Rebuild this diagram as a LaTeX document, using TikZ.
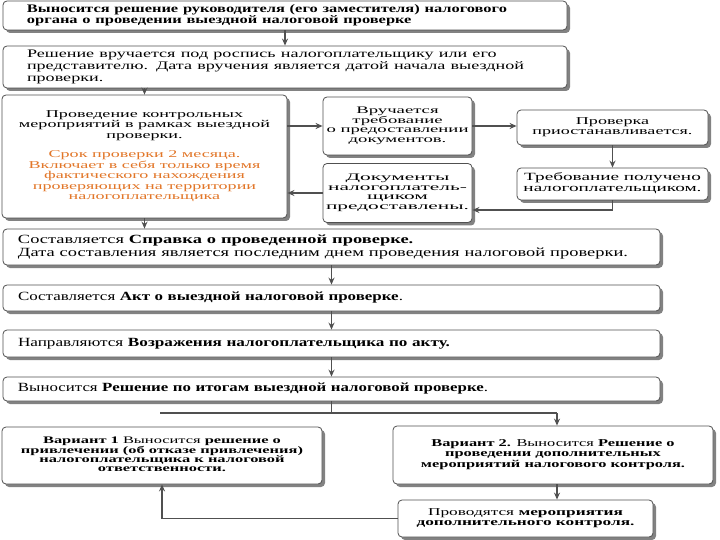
\documentclass[tikz,border=0pt]{standalone}
\usepackage{fontspec}
\setmainfont{Liberation Serif}
\usepackage{graphicx}
\usetikzlibrary{shadows,arrows.meta}
\definecolor{edge}{RGB}{80,80,80}
\definecolor{shad}{RGB}{130,130,130}
\definecolor{orng}{RGB}{226,118,40}
\newcommand{\TT}[5][c]{{\fontsize{#3}{#4}\selectfont\resizebox{#2}{\height}{\begin{tabular}{@{}#1@{}}#5\end{tabular}}}}
\begin{document}
\begin{tikzpicture}[x=1pt,y=-1pt,
  box/.style={draw=edge, line width=0.8pt, rounded corners=4pt, fill=white, inner sep=0pt,
    drop shadow={shadow xshift=3pt, shadow yshift=-3pt, fill=shad, opacity=1}},
  cbox/.style={box, align=center},
  lbox/.style={box, align=left, inner xsep=#1},
  arr/.style={draw=edge, line width=1.2pt, -{Stealth[length=7pt,width=6pt]}},
  ln/.style={draw=edge, line width=1.2pt}]
\useasboundingbox (0,0) rectangle (720,540);

\node[lbox=24pt, text width=516pt, minimum height=29pt] (b1) at (285,15.5)
  {\TT[l]{480pt}{11.5}{11.5}{\bfseries Выносится решение руководителя (его заместителя) налогового\\\bfseries органа о проведении выездной налоговой проверке}};
\node[lbox=24pt, text width=516pt, minimum height=42pt] (b2) at (285,67)
  {\TT[l]{497pt}{11.5}{11.7}{Решение вручается под роспись налогоплательщику или его\\представителю. Дата вручения является датой начала выездной\\проверки.}};
\node[cbox, minimum width=285pt, minimum height=123pt] (b3) at (144.5,156.5)
  {\TT{251pt}{10.5}{10.5}{Проведение контрольных\\мероприятий в рамках выездной\\проверки.\\[9pt]
   \color{orng}Срок проверки 2 месяца.\\\color{orng}Включает в себя только время\\\color{orng}фактического нахождения\\\color{orng}проверяющих на территории\\\color{orng}налогоплательщика}};
\node[cbox, minimum width=149pt, minimum height=58pt] (b4) at (397.5,126)
  {\TT{142pt}{10}{9.7}{Вручается\\требование\\о предоставлении\\документов.}};
\node[cbox, minimum width=149pt, minimum height=59pt] (b5) at (397.5,193)
  {\TT{143pt}{10}{9.7}{Документы\\налогоплатель-\\щиком\\предоставлены.}};
\node[cbox, minimum width=191pt, minimum height=35pt] (b6) at (612.5,127.5)
  {\TT{160pt}{10.5}{10.5}{Проверка\\приостанавливается.}};
\node[cbox, minimum width=191pt, minimum height=32pt] (b7) at (612.5,184)
  {\TT{178pt}{11}{11}{Требование получено\\налогоплательщиком.}};
\node[lbox=15pt, text width=627pt, minimum height=36pt] (b8) at (331.5,247)
  {\TT[l]{610pt}{12.5}{13}{Составляется \textbf{Справка о проведенной проверке.}\\Дата составления является последним днем проведения налоговой проверки.}};
\node[lbox=15pt, text width=627pt, minimum height=26pt] (b9) at (331.5,298)
  {\TT[l]{385pt}{12.5}{13}{Составляется \textbf{Акт о выездной налоговой проверке}.}};
\node[lbox=15pt, text width=627pt, minimum height=27pt] (b10) at (331.5,343.5)
  {\TT[l]{432pt}{12.5}{13}{Направляются \textbf{Возражения налогоплательщика по акту.}}};
\node[lbox=15pt, text width=627pt, minimum height=24pt] (b11) at (331.5,389)
  {\TT[l]{470pt}{12.5}{13}{Выносится \textbf{Решение по итогам выездной налоговой проверке}.}};
\node[cbox, minimum width=320pt, minimum height=57pt] (b12) at (162,455.5)
  {\TT{282pt}{10}{8.8}{\textbf{Вариант 1} Выносится \textbf{решение о}\\\bfseries привлечении (об отказе привлечения)\\\bfseries налогоплательщика к налоговой\\\bfseries ответственности.}};
\node[cbox, minimum width=320pt, minimum height=58pt] (b13) at (553,455)
  {\TT{264pt}{10.5}{10.2}{\textbf{Вариант 2.} Выносится \textbf{Решение о}\\\bfseries проведении дополнительных\\\bfseries мероприятий налогового контроля.}};
\node[cbox, minimum width=255pt, minimum height=37pt] (b14) at (525.5,518.5)
  {\TT{218pt}{10.5}{10.5}{Проводятся \textbf{мероприятия}\\\bfseries дополнительного контроля.}};

\coordinate (k) at (615,210);
\coordinate (jl) at (160,413);
\coordinate (jr) at (557,413);

\draw[arr] (b1.south) -- (b2.north);
\draw[arr] (b3.north |- b2.south) -- (b3.north);
\draw[arr] (b3.east |- b4.west) -- (b4.west);
\draw[arr] (b4.east) -- (b6.west |- b4.east);
\draw[arr] (b6.south) -- (b7.north);
\draw[arr] (b7.south) |- (b5.east |- k);
\draw[arr] (b5.west) -- (b3.east |- b5.west);
\draw[arr] (b3.south) -- (b3.south |- b8.north);
\draw[arr] (b8.south) -- (b9.north);
\draw[arr] (b9.south) -- (b10.north);
\draw[arr] (b10.south) -- (b11.north);
\draw[ln] (b11.south) -- (b11.south |- jl);
\draw[ln] (jl) -- (jr);
\draw[arr] (jr) -- (jr |- b13.north);
\draw[arr] (b13.south -| jr) -- (jr |- b14.north);
\draw[arr] (b14.west) -| (b12.south);
\end{tikzpicture}
\end{document}
